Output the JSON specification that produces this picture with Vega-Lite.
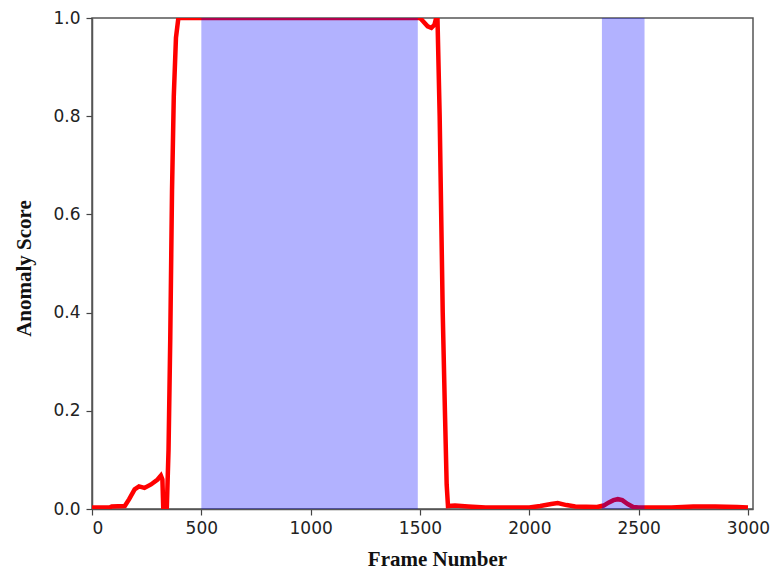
{
  "$schema": "https://vega.github.io/schema/vega-lite/v6.json",
  "width": 661,
  "height": 491,
  "autosize": {"type": "none"},
  "padding": {"left": 92, "top": 18, "right": 21, "bottom": 63},
  "background": "white",
  "config": {
    "view": {"stroke": "#555555", "strokeWidth": 1.5},
    "axis": {
      "grid": false,
      "domainColor": "#555555",
      "domainWidth": 1.5,
      "tickColor": "#444444",
      "tickSize": 6,
      "tickWidth": 1.2,
      "labelFont": "DejaVu Sans",
      "labelFontSize": 17,
      "labelColor": "#222222",
      "titleFont": "Liberation Serif",
      "titleFontWeight": "bold",
      "titleFontSize": 21,
      "titleColor": "#111111"
    }
  },
  "datasets": {
    "score": [
      {"frame": 0, "score": 0.003},
      {"frame": 80, "score": 0.003},
      {"frame": 90, "score": 0.005},
      {"frame": 150, "score": 0.006},
      {"frame": 170, "score": 0.02},
      {"frame": 195, "score": 0.04},
      {"frame": 215, "score": 0.046},
      {"frame": 240, "score": 0.043},
      {"frame": 270, "score": 0.05},
      {"frame": 300, "score": 0.06},
      {"frame": 315, "score": 0.068},
      {"frame": 322, "score": 0.06},
      {"frame": 326, "score": 0.0},
      {"frame": 342, "score": 0.0},
      {"frame": 350, "score": 0.12},
      {"frame": 358, "score": 0.35},
      {"frame": 366, "score": 0.65},
      {"frame": 374, "score": 0.84},
      {"frame": 384, "score": 0.96},
      {"frame": 395, "score": 1.0},
      {"frame": 1500, "score": 1.0},
      {"frame": 1515, "score": 0.993},
      {"frame": 1535, "score": 0.983},
      {"frame": 1552, "score": 0.98},
      {"frame": 1566, "score": 0.986},
      {"frame": 1574, "score": 1.0},
      {"frame": 1580, "score": 1.0},
      {"frame": 1590, "score": 0.8},
      {"frame": 1604, "score": 0.4},
      {"frame": 1614, "score": 0.2},
      {"frame": 1622, "score": 0.05},
      {"frame": 1628, "score": 0.006},
      {"frame": 1660, "score": 0.007},
      {"frame": 1720, "score": 0.005},
      {"frame": 1800, "score": 0.003},
      {"frame": 2000, "score": 0.003},
      {"frame": 2050, "score": 0.006},
      {"frame": 2100, "score": 0.01},
      {"frame": 2130, "score": 0.012},
      {"frame": 2170, "score": 0.008},
      {"frame": 2210, "score": 0.005},
      {"frame": 2310, "score": 0.004},
      {"frame": 2340, "score": 0.007},
      {"frame": 2362, "score": 0.013},
      {"frame": 2385, "score": 0.018},
      {"frame": 2405, "score": 0.02},
      {"frame": 2425, "score": 0.018},
      {"frame": 2450, "score": 0.01},
      {"frame": 2475, "score": 0.004},
      {"frame": 2500, "score": 0.003},
      {"frame": 2650, "score": 0.003},
      {"frame": 2750, "score": 0.005},
      {"frame": 2850, "score": 0.005},
      {"frame": 2950, "score": 0.004},
      {"frame": 3000, "score": 0.003}
    ],
    "spans": [
      {"start": 500, "end": 1490},
      {"start": 2332, "end": 2527}
    ]
  },
  "layer": [
    {
      "data": {"name": "score"},
      "mark": {"type": "line", "color": "#ff0000", "strokeWidth": 4.5, "clip": true},
      "encoding": {
        "x": {
          "field": "frame",
          "type": "quantitative",
          "scale": {"domain": [0, 3023], "nice": false, "zero": false},
          "axis": {
            "values": [0, 500, 1000, 1500, 2000, 2500, 3000],
            "format": "d",
            "labelPadding": 5,
            "title": "Frame Number",
            "titleX": 345,
            "titleY": 56,
            "titleBaseline": "alphabetic",
            "titleAnchor": "middle"
          }
        },
        "y": {
          "field": "score",
          "type": "quantitative",
          "scale": {"domain": [0, 1], "nice": false},
          "axis": {
            "values": [0, 0.2, 0.4, 0.6, 0.8, 1.0],
            "format": ".1f",
            "labelPadding": 6,
            "title": "Anomaly Score",
            "titleX": -62,
            "titleY": 250,
            "titleAngle": -90,
            "titleBaseline": "alphabetic",
            "titleAlign": "center"
          }
        }
      }
    },
    {
      "data": {"name": "spans"},
      "mark": {"type": "rect", "color": "#0000ff", "opacity": 0.3},
      "encoding": {
        "x": {"field": "start", "type": "quantitative"},
        "x2": {"field": "end"}
      }
    }
  ]
}
